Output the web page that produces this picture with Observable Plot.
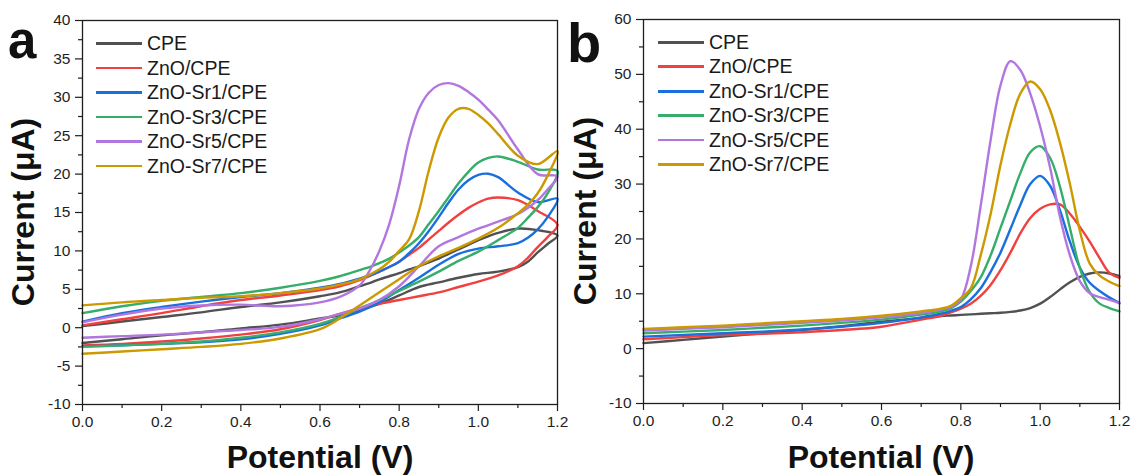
<!DOCTYPE html>
<html>
<head>
<meta charset="utf-8">
<script src="https://cdn.jsdelivr.net/npm/d3@7"></script>
<script src="https://cdn.jsdelivr.net/npm/@observablehq/plot@0.6"></script>
<style>
  html, body { margin: 0; padding: 0; background: #fff; }
  #wrap { position: relative; width: 1131px; height: 475px; overflow: hidden; background: #fff; font-family: "Liberation Sans", Arial, sans-serif; }
  .panel { position: absolute; top: 0; }
  .legend { position: absolute; font-family: "Liberation Sans", Arial, sans-serif; font-size: 19.5px; color: #1a1a1a; }
  .legend .row { position: absolute; white-space: nowrap; height: 24px; }
  .legend .sw { position: absolute; left: 0; top: 11px; width: 46px; height: 2.8px; }
  .legend .lab { position: absolute; left: 51px; top: 0; line-height: 24px; }
  .ttl { position: absolute; font-family: "Liberation Sans", Arial, sans-serif; font-weight: bold; color: #111; white-space: nowrap; }
</style>
</head>
<body>
<div id="wrap">
  <div id="pa" class="panel" style="left:0px"></div>
  <div id="pb" class="panel" style="left:565px"></div>
</div>
<script>
// ---- series & colours ----
const series = ["CPE", "ZnO/CPE", "ZnO-Sr1/CPE", "ZnO-Sr3/CPE", "ZnO-Sr5/CPE", "ZnO-Sr7/CPE"];
const colors = ["#515151", "#F14040", "#1A6FDF", "#37AD6B", "#B177DE", "#CC9900"];

// ---- panel a: cyclic voltammograms (forward sweep then reverse sweep) ----
const aFwdV = [0, 0.1, 0.2, 0.3, 0.4, 0.5, 0.6, 0.65, 0.7, 0.725, 0.75, 0.775, 0.8, 0.825, 0.85, 0.875, 0.9, 0.925, 0.95, 0.975, 1.0, 1.025, 1.05, 1.1, 1.15, 1.2];
const aRevV = [1.175, 1.15, 1.125, 1.1, 1.05, 1.0, 0.95, 0.9, 0.85, 0.8, 0.75, 0.7, 0.65, 0.6, 0.5, 0.4, 0.3, 0.2, 0.1, 0];

const aFwdCPE = [0.2, 0.8, 1.4, 2.0, 2.7, 3.3, 4.1, 4.6, 5.4, 5.8, 6.3, 6.7, 7.1, 7.6, 8.0, 8.5, 9.0, 9.6, 10.2, 10.8, 11.4, 11.9, 12.35, 12.9, 12.7, 12.0];
const aFwdZnO = [0.3, 1.1, 1.9, 2.8, 3.6, 4.2, 4.9, 5.4, 6.2, 6.7, 7.3, 7.9, 8.6, 9.5, 10.4, 11.5, 12.6, 13.7, 14.7, 15.6, 16.3, 16.8, 16.95, 16.6, 15.2, 13.4];
const aFwdSr1 = [0.8, 1.9, 2.7, 3.4, 4.0, 4.5, 5.2, 5.7, 6.4, 6.8, 7.3, 7.9, 8.6, 9.7, 11.0, 12.6, 14.4, 16.3, 18.0, 19.2, 19.9, 20.05, 19.6, 17.6, 16.35, 16.8];
const aFwdSr3 = [1.9, 2.8, 3.5, 4.0, 4.5, 5.2, 6.1, 6.7, 7.5, 7.9, 8.4, 9.0, 9.8, 10.7, 11.8, 13.5, 15.2, 17.0, 18.8, 20.3, 21.5, 22.1, 22.3, 21.6, 20.6, 20.4];
const aFwdSr5 = [0.7, 1.7, 2.5, 2.9, 3.0, 2.8, 3.3, 4.0, 5.5, 7.4, 10.0, 13.5, 18.5, 24.5, 28.5, 30.6, 31.6, 31.85, 31.5, 30.7, 29.7, 28.4, 27.0, 23.2, 20.0, 19.7];
const aFwdSr7 = [2.9, 3.3, 3.6, 3.9, 4.1, 4.5, 5.1, 5.6, 6.3, 6.9, 7.6, 8.6, 10.0, 11.5, 15.2, 20.5, 24.8, 27.4, 28.5, 28.5, 27.7, 26.6, 25.2, 22.4, 21.3, 23.0];

const aRevCPE = [10.9, 9.8, 8.6, 7.9, 7.3, 7.0, 6.5, 5.9, 5.3, 4.2, 3.1, 2.3, 1.6, 1.2, 0.4, -0.1, -0.6, -1.0, -1.5, -2.0];
const aRevZnO = [11.8, 10.5, 9.1, 8.0, 6.8, 6.0, 5.3, 4.6, 4.1, 3.6, 3.1, 2.5, 1.8, 1.0, -0.2, -0.9, -1.4, -1.8, -2.1, -2.3];
const aRevSr1 = [14.4, 12.8, 11.7, 11.0, 10.6, 10.3, 9.6, 8.2, 6.5, 4.9, 3.3, 2.1, 1.2, 0.3, -0.8, -1.5, -1.9, -2.1, -2.3, -2.4];
const aRevSr3 = [17.5, 15.7, 14.3, 13.0, 11.4, 9.9, 8.7, 7.3, 6.0, 4.8, 3.6, 2.5, 1.4, 0.5, -0.6, -1.3, -1.8, -2.1, -2.3, -2.5];
const aRevSr5 = [18.0, 16.6, 15.6, 14.8, 13.8, 12.9, 11.8, 10.6, 8.0, 5.4, 3.6, 2.5, 1.8, 1.1, 0.1, -0.3, -0.6, -0.9, -1.1, -1.3];
const aRevSr7 = [19.8, 17.5, 16.0, 14.9, 13.0, 11.6, 10.4, 9.3, 8.0, 6.3, 4.6, 2.9, 1.2, -0.2, -1.4, -2.1, -2.5, -2.8, -3.1, -3.4];

// ---- panel b: voltammetric peaks ----
const bV = [0, 0.1, 0.2, 0.3, 0.4, 0.5, 0.6, 0.7, 0.75, 0.775, 0.8, 0.825, 0.85, 0.875, 0.9, 0.925, 0.95, 0.975, 1.0, 1.025, 1.05, 1.075, 1.1, 1.125, 1.15, 1.175, 1.2];
const bCPE = [1.0, 1.6, 2.2, 2.8, 3.4, 4.1, 4.9, 5.6, 5.95, 6.05, 6.15, 6.25, 6.35, 6.45, 6.55, 6.7, 6.95, 7.4, 8.2, 9.4, 10.8, 12.1, 13.1, 13.7, 13.9, 13.7, 13.2];
const bZnO = [1.7, 2.1, 2.5, 2.7, 3.0, 3.4, 4.0, 5.3, 6.0, 6.6, 7.3, 8.2, 9.6, 11.6, 14.3, 17.5, 21.0, 23.8, 25.5, 26.3, 26.3, 24.6, 22.2, 19.5, 16.5, 13.8, 12.9];
const bSr1 = [2.2, 2.5, 2.8, 3.1, 3.5, 4.0, 4.7, 5.7, 6.4, 6.9, 7.6, 9.0, 11.0, 14.0, 17.5, 21.8, 26.2, 30.0, 31.5, 29.7, 25.2, 19.5, 14.8, 12.0, 10.5, 9.3, 8.3];
const bSr3 = [2.8, 3.1, 3.4, 3.8, 4.2, 4.7, 5.3, 6.2, 6.8, 7.4, 8.6, 10.5, 13.0, 17.0, 22.0, 27.0, 32.0, 35.8, 36.9, 34.8, 29.5, 22.0, 14.7, 10.3, 8.2, 7.4, 6.8];
const bSr5 = [3.3, 3.6, 3.9, 4.3, 4.7, 5.1, 5.7, 6.5, 7.1, 7.6, 9.0, 15.0, 26.0, 38.0, 48.0, 52.4, 50.8, 46.5, 40.5, 33.0, 24.0, 17.0, 12.3, 10.1, 9.4, 8.9, 8.3];
const bSr7 = [3.6, 3.9, 4.2, 4.6, 5.0, 5.4, 6.0, 6.8, 7.3, 7.8, 9.2, 11.0, 17.0, 24.5, 33.5, 41.0, 46.5, 48.7, 47.3, 43.5, 37.5, 30.0, 21.5, 15.5, 13.3, 12.2, 11.4];

// ---- tick values & titles ----
const xMajor = [0, 0.2, 0.4, 0.6, 0.8, 1.0, 1.2];
const xMinor = [0.1, 0.3, 0.5, 0.7, 0.9, 1.1];
const aYMajor = [-10, -5, 0, 5, 10, 15, 20, 25, 30, 35, 40];
const aYMinor = [-7.5, -2.5, 2.5, 7.5, 12.5, 17.5, 22.5, 27.5, 32.5, 37.5];
const bYMajor = [-10, 0, 10, 20, 30, 40, 50, 60];
const bYMinor = [-5, 5, 15, 25, 35, 45, 55];
const xTitle = "Potential (V)";
const yTitle = "Current (\u03bcA)";

// ---- build tables ----
const aFwd = [aFwdCPE, aFwdZnO, aFwdSr1, aFwdSr3, aFwdSr5, aFwdSr7];
const aRev = [aRevCPE, aRevZnO, aRevSr1, aRevSr3, aRevSr5, aRevSr7];
const aData = [];
series.forEach((s, i) => {
  aFwdV.forEach((v, j) => aData.push({s, v, c: aFwd[i][j]}));
  aRevV.forEach((v, j) => aData.push({s, v, c: aRev[i][j]}));
});
const bAll = [bCPE, bZnO, bSr1, bSr3, bSr5, bSr7];
const bData = [];
series.forEach((s, i) => bV.forEach((v, j) => bData.push({s, v, c: bAll[i][j]})));

const FONT = "'Liberation Sans', Arial, sans-serif";
const fmtY = d => String(d);

function panel({data, width, ml, mr, mt, mb, yDomain, yMajor, yMinor}) {
  return Plot.plot({
    width, height: 475,
    marginLeft: ml, marginRight: mr, marginTop: mt, marginBottom: mb,
    style: {fontFamily: FONT, fontSize: "15.5px", color: "#1e1e1e", background: "transparent", overflow: "visible"},
    x: {domain: [0, 1.2]},
    y: {domain: yDomain},
    color: {domain: series, range: colors},
    marks: [
      Plot.axisX({ticks: xMajor, tickSize: 7, tickPadding: 4, tickFormat: d3.format(".1f"), label: null, strokeWidth: 1.2}),
      Plot.axisX({ticks: xMinor, tickSize: 4, tickFormat: () => "", label: null, strokeWidth: 1.2}),
      Plot.axisY({ticks: yMajor, tickSize: 7, tickPadding: 5, tickFormat: fmtY, label: null, strokeWidth: 1.2}),
      Plot.axisY({ticks: yMinor, tickSize: 4, tickFormat: () => "", label: null, strokeWidth: 1.2}),
      Plot.line(data, {x: "v", y: "c", z: "s", stroke: "s", strokeWidth: 2.4, curve: "catmull-rom"}),
      Plot.frame({stroke: "#1e1e1e", strokeWidth: 1.3})
    ]
  });
}

document.getElementById("pa").appendChild(panel({
  data: aData, width: 565, ml: 82, mr: 8, mt: 20, mb: 71,
  yDomain: [-10, 40], yMajor: aYMajor, yMinor: aYMinor
}));
document.getElementById("pb").appendChild(panel({
  data: bData, width: 566, ml: 78, mr: 12, mt: 19, mb: 72,
  yDomain: [-10, 60], yMajor: bYMajor, yMinor: bYMinor
}));

const wrap = document.getElementById("wrap");
function addText(txt, css) {
  const d = document.createElement("div");
  d.className = "ttl";
  d.textContent = txt;
  Object.assign(d.style, css);
  wrap.appendChild(d);
  return d;
}
// axis titles
addText(xTitle, {left: "320px", top: "441px", fontSize: "32px", lineHeight: "32px", transform: "translateX(-50%)"});
addText(xTitle, {left: "881px", top: "441px", fontSize: "32px", lineHeight: "32px", transform: "translateX(-50%)"});
addText(yTitle, {left: "23px", top: "211.5px", fontSize: "32px", lineHeight: "32px", transform: "translate(-50%,-50%) rotate(-90deg)"});
addText(yTitle, {left: "585px", top: "211px", fontSize: "32px", lineHeight: "32px", transform: "translate(-50%,-50%) rotate(-90deg)"});
// panel letters
addText("a", {left: "8px", top: "15px", fontSize: "51px", lineHeight: "51px"});
addText("b", {left: "567px", top: "14.6px", fontSize: "56px", lineHeight: "56px"});

// ---- legends ----
function legend(left, top, gap) {
  const el = document.createElement("div");
  el.className = "legend";
  el.style.left = left + "px";
  el.style.top = top + "px";
  series.forEach((s, i) => {
    const row = document.createElement("div");
    row.className = "row";
    row.style.top = (i * gap) + "px";
    const sw = document.createElement("div");
    sw.className = "sw";
    sw.style.background = colors[i];
    const lab = document.createElement("div");
    lab.className = "lab";
    lab.textContent = s;
    row.appendChild(sw); row.appendChild(lab);
    el.appendChild(row);
  });
  wrap.appendChild(el);
}
legend(96, 31, 24.5);
legend(658, 30, 24.4);
</script>
</body>
</html>
